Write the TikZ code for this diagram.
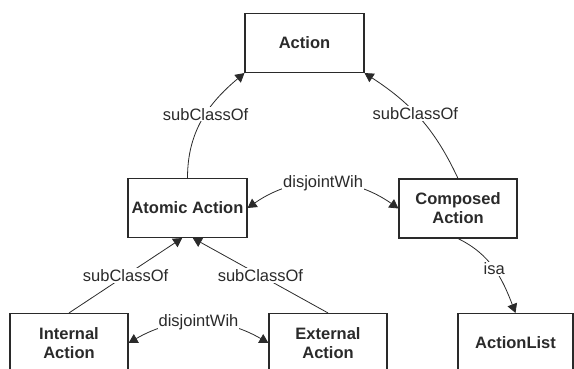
\documentclass[tikz,border=0pt]{standalone}
\usepackage{fontspec}
\setmainfont{Liberation Sans}
\usetikzlibrary{arrows.meta}
\definecolor{ink}{HTML}{2A2A2A}
\newcommand\diafont{\fontsize{16.5}{19}\selectfont}
\begin{document}
\begin{tikzpicture}[x=1pt,y=1pt,every node/.style={font=\diafont,text=ink},
	cls/.style={draw=ink,line width=1.1pt,minimum width=119pt,minimum height=59pt,align=center,font=\diafont\bfseries},
	rel/.style={draw=ink,line width=.8pt,-{Triangle[length=9pt,width=10pt]}},
	both/.style={rel,{Triangle[length=9pt,width=10pt]}-{Triangle[length=9pt,width=10pt]}},
	lab/.style={fill=white,inner sep=1pt}]
		\useasboundingbox(0,0)rectangle(574,369);
		\coordinate(A)at(304.5,326);
		\coordinate(AA)at(187.5,161);
		\coordinate(CA)at(458,160.5);
		\coordinate(IA)at(69,26);
		\coordinate(EA)at(328,26);
		\coordinate(AL)at(515.5,26);
		\node[cls](action)at(A){Action};
		\node[cls](atomic)at(AA){Atomic Action};
		\node[cls,minimum width=118pt](composed)at(CA){Composed\\Action};
		\node[cls,minimum width=118pt](internal)at(IA){Internal\\Action};
		\node[cls,minimum width=118pt](external)at(EA){External\\Action};
		\node[cls,minimum width=115pt](list)at(AL){ActionList};
		\draw[rel](atomic.north)to[out=90,in=-140]node[lab,pos=.55]{subClassOf}(action.south west);
		\draw[rel](composed.north)to[out=115,in=-33]node[lab,pos=.55]{subClassOf}(action.south east);
		\draw[both](atomic.east)to[bend left=35]node[lab]{disjointWih}(composed.west);
		\draw[rel](internal.north)--node[lab]{subClassOf}(atomic.-100);
		\draw[rel](external.north)--node[lab]{subClassOf}(atomic.-80);
		\draw[both](internal.east)to[bend left=30]node[lab]{disjointWih}(external.west);
		\draw[rel](composed.south)to[out=-26,in=111]node[lab]{isa}(list.north);
		\end{tikzpicture}
\end{document}
